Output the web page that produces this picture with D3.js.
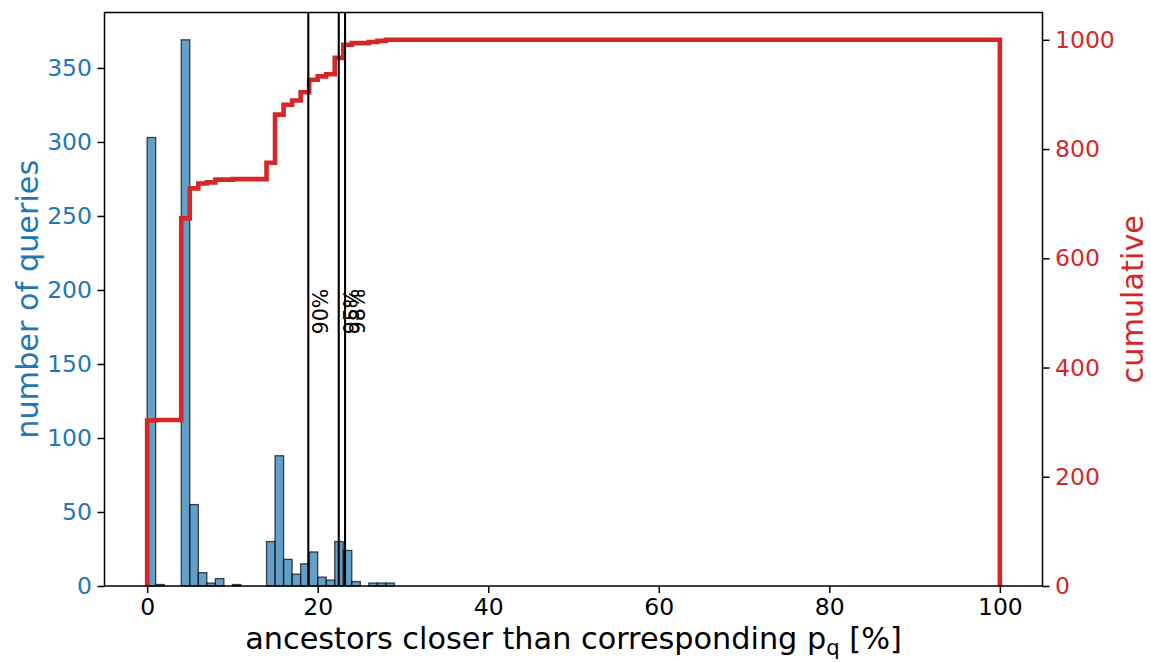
<!DOCTYPE html>
<html>
<head>
<meta charset="utf-8">
<script src="https://cdn.jsdelivr.net/npm/d3@7"></script>
<style>
  html, body { margin: 0; padding: 0; background: #fff; }
  svg { display: block; font-family: "DejaVu Sans", sans-serif; }
</style>
</head>
<body>
<svg id="chart" width="1151" height="662"></svg>
<script>
// ---- data ----
const binStarts = [0, 1, 4, 5, 6, 7, 8, 10, 14, 15, 16, 17, 18, 19, 20, 21, 22, 23, 24, 26, 27, 28];
const counts    = [303, 1, 369, 55, 9, 2, 5, 1, 30, 88, 18, 8, 15, 23, 6, 4, 30, 24, 3, 2, 2, 2];
const binWidth = 1;
const histRange = [0, 100];
const percentileLabels = ["90%", "95%", "98%"];
const percentileValues = [18.9, 22.47, 23.21];
const xTicks = [0, 20, 40, 60, 80, 100];
const yLeftTicks = [0, 50, 100, 150, 200, 250, 300, 350];
const yRightTicks = [0, 200, 400, 600, 800, 1000];

// ---- layout ----
const W = 1151, H = 662;
const m = { left: 104.5, right: 1042.5, top: 12.5, bottom: 586 };
const blue = "#1f77b4", red = "#d62728";
const tickFs = 23.5, labelFs = 30.3, annFs = 20.5;

const svg = d3.select("#chart");
const x = d3.scaleLinear().domain([-5, 105]).range([m.left, m.right]);
const yL = d3.scaleLinear().domain([0, 387.45]).range([m.bottom, m.top]);
const yR = d3.scaleLinear().domain([0, 1050]).range([m.bottom, m.top]);

// bars
const bars = binStarts.map((s, i) => ({ x0: s, x1: s + binWidth, v: counts[i] }));
svg.append("g").selectAll("rect").data(bars).join("rect")
  .attr("x", d => x(d.x0))
  .attr("y", d => yL(d.v))
  .attr("width", d => x(d.x1) - x(d.x0))
  .attr("height", d => yL(0) - yL(d.v))
  .attr("fill", blue).attr("fill-opacity", 0.7)
  .attr("stroke", "#000").attr("stroke-opacity", 0.7).attr("stroke-width", 1.3);

// cumulative step
const cum = d3.cumsum(counts);
const pts = [[histRange[0], 0]];
let prev = 0;
bars.forEach((b, i) => {
  pts.push([b.x0, prev]);
  pts.push([b.x0, cum[i]]);
  pts.push([b.x1, cum[i]]);
  prev = cum[i];
});
pts.push([histRange[1], prev]);
pts.push([histRange[1], 0]);
svg.append("path")
  .attr("d", d3.line().x(d => x(d[0])).y(d => yR(d[1]))(pts))
  .attr("fill", "none").attr("stroke", red).attr("stroke-width", 4.6)
  .attr("stroke-linejoin", "miter").attr("stroke-linecap", "butt");

// percentile lines
percentileValues.forEach((v, i) => {
  svg.append("line")
    .attr("x1", x(v)).attr("x2", x(v))
    .attr("y1", m.top).attr("y2", m.bottom)
    .attr("stroke", "#000").attr("stroke-width", 2.1);
  svg.append("text")
    .attr("transform", `translate(${x(v) + 1},${yL(170)}) rotate(-90)`)
    .attr("dominant-baseline", "text-before-edge")
    .attr("font-size", annFs)
    .attr("fill", "#000")
    .text(percentileLabels[i]);
});

// frame
svg.append("rect")
  .attr("x", m.left).attr("y", m.top)
  .attr("width", m.right - m.left).attr("height", m.bottom - m.top)
  .attr("fill", "none").attr("stroke", "#000").attr("stroke-width", 1.5);

// axes
const tickLen = 7, pad = 5.5;
const gx = svg.append("g").attr("transform", `translate(0,${m.bottom})`)
  .call(d3.axisBottom(x).tickValues(xTicks).tickSize(tickLen).tickPadding(pad).tickFormat(d3.format("d")));
const gl = svg.append("g").attr("transform", `translate(${m.left},0)`)
  .call(d3.axisLeft(yL).tickValues(yLeftTicks).tickSize(tickLen).tickPadding(pad).tickFormat(d3.format("d")));
const gr = svg.append("g").attr("transform", `translate(${m.right},0)`)
  .call(d3.axisRight(yR).tickValues(yRightTicks).tickSize(tickLen).tickPadding(pad).tickFormat(d3.format("d")));
[gx, gl, gr].forEach(g => {
  g.select(".domain").remove();
  g.selectAll(".tick line").attr("stroke", "#000").attr("stroke-width", 1.5);
  g.selectAll(".tick text").attr("font-size", tickFs).attr("font-family", "DejaVu Sans");
});
gx.selectAll(".tick text").attr("fill", "#000");
gl.selectAll(".tick text").attr("fill", blue);
gr.selectAll(".tick text").attr("fill", red);

// axis labels
const xl = svg.append("text")
  .attr("x", (m.left + m.right) / 2).attr("y", 649)
  .attr("text-anchor", "middle").attr("font-size", labelFs).attr("fill", "#000");
xl.append("tspan").text("ancestors closer than corresponding p");
xl.append("tspan").attr("font-size", labelFs * 0.7).attr("dy", 6).text("q");
xl.append("tspan").attr("dy", -6).text(" [%]");

svg.append("text")
  .attr("transform", `translate(38,${(m.top + m.bottom) / 2}) rotate(-90)`)
  .attr("text-anchor", "middle").attr("font-size", labelFs).attr("fill", blue)
  .text("number of queries");
svg.append("text")
  .attr("transform", `translate(1143,${(m.top + m.bottom) / 2}) rotate(-90)`)
  .attr("text-anchor", "middle").attr("font-size", labelFs).attr("fill", red)
  .text("cumulative");
</script>
</body>
</html>
